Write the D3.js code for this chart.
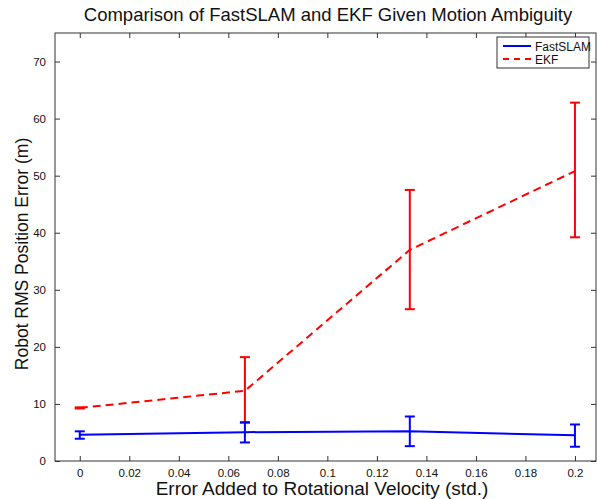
<!DOCTYPE html>
<html>
<head>
<meta charset="utf-8">
<script src="https://cdn.jsdelivr.net/npm/d3@7"></script>
<style>
  body { margin: 0; background: #fff; }
  svg { display: block; font-family: "Liberation Sans", Arial, sans-serif; }
</style>
</head>
<body>
<svg width="597" height="499"></svg>
<script>
// data
var xVals = [0, 0.0667, 0.1333, 0.2];
var fastMean = [4.6, 5.05, 5.2, 4.5];
var fastLow = [3.9, 3.25, 2.6, 2.5];
var fastHigh = [5.2, 6.8, 7.8, 6.4];
var ekfMean = [9.3, 12.3, 37.0, 50.8];
var ekfLow = [9.2, 6.7, 26.6, 39.2];
var ekfHigh = [9.4, 18.2, 47.5, 62.8];
var xTicks = [0, 0.02, 0.04, 0.06, 0.08, 0.1, 0.12, 0.14, 0.16, 0.18, 0.2];
var yTicks = [0, 10, 20, 30, 40, 50, 60, 70];
var legendNames = ["FastSLAM", "EKF"];

(function() {
    var svg = d3.select("svg");
    var mLeft = 55, mRight = 596, mTop = 33, mBottom = 461;

    var x = d3.scaleLinear().domain([-0.01, 0.2085]).range([mLeft, mRight]);
    var y = d3.scaleLinear().domain([0, 75]).range([mBottom, mTop]);

    var tickLen = 5;

    // frame
    svg.append("rect")
        .attr("x", mLeft).attr("y", mTop)
        .attr("width", mRight - mLeft).attr("height", mBottom - mTop)
        .attr("fill", "none").attr("stroke", "#333").attr("stroke-width", 1);

    // axes with inward ticks
    svg.append("g")
        .attr("transform", "translate(0," + mBottom + ")")
        .call(d3.axisBottom(x).tickValues(xTicks).tickSizeInner(-tickLen).tickSizeOuter(0)
            .tickPadding(8).tickFormat(d => String(+d.toFixed(2))));
    svg.append("g")
        .attr("transform", "translate(0," + mTop + ")")
        .call(d3.axisTop(x).tickValues(xTicks).tickSizeInner(-tickLen).tickSizeOuter(0).tickFormat(""));
    svg.append("g")
        .attr("transform", "translate(" + mLeft + ",0)")
        .call(d3.axisLeft(y).tickValues(yTicks).tickSizeInner(-tickLen).tickSizeOuter(0).tickPadding(9));
    svg.append("g")
        .attr("transform", "translate(" + mRight + ",0)")
        .call(d3.axisRight(y).tickValues(yTicks).tickSizeInner(-tickLen).tickSizeOuter(0).tickFormat(""));

    svg.selectAll(".domain").remove();
    svg.selectAll(".tick line").attr("stroke", "#333");
    svg.selectAll(".tick text")
        .attr("fill", "#111")
        .style("font-size", "11.5px")
        .style("font-family", "Liberation Sans, Arial, sans-serif");

    // lines
    var line = d3.line().x(d => x(d[0])).y(d => y(d[1]));

    function series(means, lows, highs, color, dash) {
        var pts = xVals.map((v, i) => [v, means[i]]);
        svg.append("path")
            .datum(pts)
            .attr("d", line)
            .attr("fill", "none")
            .attr("stroke", color)
            .attr("stroke-width", 2)
            .attr("stroke-dasharray", dash);

        var g = svg.append("g").attr("stroke", color).attr("stroke-width", 2);
        xVals.forEach(function(v, i) {
            var cx = x(v);
            g.append("line")
                .attr("x1", cx).attr("x2", cx)
                .attr("y1", y(lows[i])).attr("y2", y(highs[i]));
            g.append("line")
                .attr("x1", cx - 5).attr("x2", cx + 5)
                .attr("y1", y(lows[i])).attr("y2", y(lows[i]));
            g.append("line")
                .attr("x1", cx - 5).attr("x2", cx + 5)
                .attr("y1", y(highs[i])).attr("y2", y(highs[i]));
        });
    }

    series(ekfMean, ekfLow, ekfHigh, "#ff0000", "8,5");
    series(fastMean, fastLow, fastHigh, "#0000ff", null);

    // title and axis labels
    svg.append("text")
        .attr("x", 328).attr("y", 21)
        .attr("text-anchor", "middle")
        .style("font-size", "18.5px")
        .attr("fill", "#111")
        .text("Comparison of FastSLAM and EKF Given Motion Ambiguity");

    svg.append("text")
        .attr("x", 322).attr("y", 495)
        .attr("text-anchor", "middle")
        .style("font-size", "19px")
        .attr("fill", "#111")
        .text("Error Added to Rotational Velocity (std.)");

    svg.append("text")
        .attr("transform", "translate(28,254) rotate(-90)")
        .attr("text-anchor", "middle")
        .style("font-size", "17.5px")
        .attr("fill", "#111")
        .text("Robot RMS Position Error (m)");

    // legend
    var legend = svg.append("g").attr("transform", "translate(497,37)");
    legend.append("rect")
        .attr("width", 92).attr("height", 31)
        .attr("fill", "#fff").attr("stroke", "#333").attr("stroke-width", 1);
    var colors = ["#0000ff", "#ff0000"];
    var dashes = [null, "6,5"];
    legendNames.forEach(function(n, i) {
        legend.append("line")
            .attr("x1", 6).attr("x2", 34)
            .attr("y1", 9 + i * 13).attr("y2", 9 + i * 13)
            .attr("stroke", colors[i]).attr("stroke-width", 2)
            .attr("stroke-dasharray", dashes[i]);
        legend.append("text")
            .attr("x", 38).attr("y", 13.5 + i * 13)
            .style("font-size", "12px")
            .attr("fill", "#111")
            .text(n);
    });
})();
</script>
</body>
</html>
